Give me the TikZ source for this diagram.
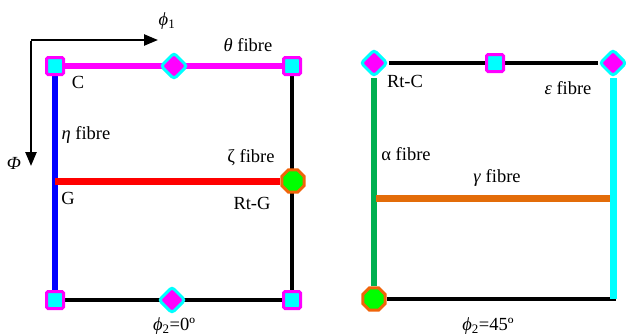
\documentclass[tikz,border=0pt]{standalone}
\usepackage{fontspec}
\setmainfont{Liberation Serif}
\usetikzlibrary{shapes.geometric,arrows.meta,backgrounds}
\definecolor{mag}{RGB}{255,0,255}
\definecolor{cyn}{RGB}{0,255,255}
\definecolor{grn}{RGB}{0,176,80}
\definecolor{org}{RGB}{227,108,9}
\definecolor{octfill}{RGB}{0,255,0}
\definecolor{octline}{RGB}{240,100,10}
\definecolor{blu}{RGB}{0,0,255}
\definecolor{rd}{RGB}{255,0,0}
\tikzset{
  sq/.style={rectangle,draw=mag,fill=cyn,line width=3pt,minimum size=17pt,inner sep=0pt,rounded corners=1.5pt},
  dia/.style={diamond,draw=cyn,fill=mag,line width=3pt,minimum size=27pt,inner sep=0pt,rounded corners=3pt},
  oct/.style={regular polygon,regular polygon sides=8,draw=octline,fill=octfill,line width=3pt,minimum size=24pt,inner sep=0pt},
  lbl/.style={font=\fontsize{18.5}{20}\selectfont,inner sep=0pt},
  thin/.style={line width=3.5pt,black},
  thick/.style={line width=6pt},
  axis/.style={line width=2.5pt,-{Triangle[length=14pt,width=11pt]}}
}
\begin{document}
\begin{tikzpicture}[x=1pt,y=-1pt]
\useasboundingbox (0,0) rectangle (626,335);
% left panel nodes
\node[sq] (LTL) at (55,66) {};
\node[dia] (LTM) at (174,66) {};
\node[sq] (LTR) at (292,66) {};
\node[sq] (LBL) at (55,300) {};
\node[dia] (LBM) at (172,300) {};
\node[sq] (LBR) at (292,300) {};
\node[oct] (LRG) at (293,181) {};
\coordinate (LG) at (55,181);
% right panel nodes
\node[dia] (RTL) at (374,63) {};
\node[sq] (RTM) at (495,63) {};
\node[dia] (RTR) at (613,63) {};
\node[oct] (RBL) at (374,299) {};
\coordinate (RBR) at (616,299);
\coordinate (RBC) at (613,299);
\coordinate (RGL) at (376,198);
\coordinate (RGR) at (610,198);
\begin{scope}[on background layer]
  \draw[thin] (LTR) -- (LBR);
  \draw[thin] (LBL) -- (LBR);
  \draw[thick,mag] (LTL) -- (LTR);
  \draw[thick,blu] (LTL) -- (LBL);
  \draw[line width=7pt,rd] (LG) -- (LRG);
  \draw[thin] (RTL) -- (RTR);
  \draw[thin] (RBL) -- (RBR);
  \draw[thick,grn] (RTL) -- (RBL);
  \draw[line width=7pt,cyn] (RTR) -- (RBC);
  \draw[line width=7pt,org] (RGL) -- (RGR);
\end{scope}
% axes
\coordinate (O) at (31,40);
\coordinate (AX) at (158,40);
\coordinate (AY) at (31,166);
\draw[axis] (O) -- (AX);
\draw[axis] (31,41.25) -- (AY);
\node[lbl] (phi1) at (167,21) {\textit{ϕ}\textsubscript{1}};
\node[lbl] (Phi) at (14,163) {\textit{Φ}};
% left labels
\node[lbl] (tC) at (78,82) {C};
\node[lbl] (teta) at (86,135) {\textit{η} fibre};
\node[lbl] (ttheta) at (248,45) {\textit{θ} fibre};
\node[lbl] (tzeta) at (251,158) {ζ fibre};
\node[lbl] (tG) at (68,198) {G};
\node[lbl] (tRtG) at (252,203) {Rt-G};
\node[lbl] (tphi0) at (174,326) {\textit{ϕ}\textsubscript{2}=0º};
% right labels
\node[lbl] (tRtC) at (405,81) {Rt-C};
\node[lbl] (teps) at (568,88) {\textit{ε} fibre};
\node[lbl] (talpha) at (406,154) {α fibre};
\node[lbl] (tgamma) at (497,178) {\textit{γ} fibre};
\node[lbl] (tphi45) at (488,326) {\textit{ϕ}\textsubscript{2}=45º};
\end{tikzpicture}
\end{document}
